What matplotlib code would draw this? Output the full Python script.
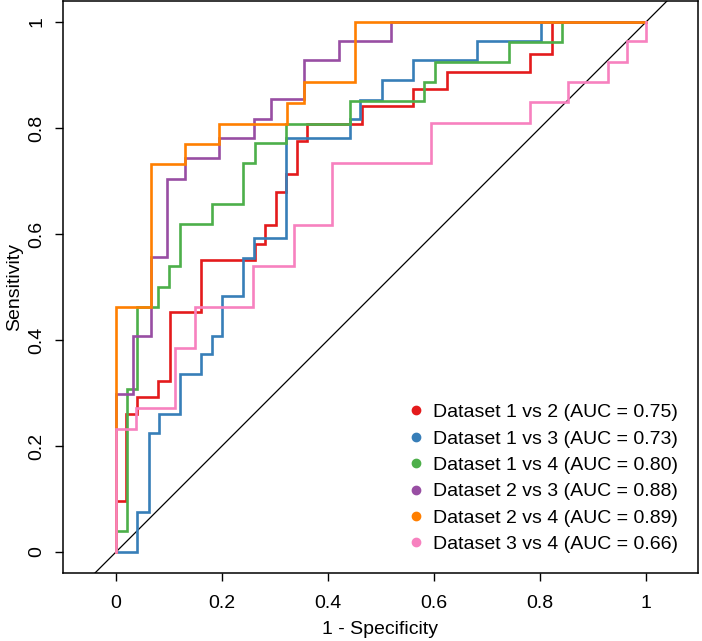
import matplotlib
matplotlib.use('Agg')
from matplotlib import pyplot as plt
from matplotlib.lines import Line2D

plt.rcParams['font.family'] = ['Liberation Sans', 'DejaVu Sans']

# ROC step curves (1 - specificity, sensitivity)
fpr_12 = [0, 0, 0.019, 0.019, 0.039, 0.039, 0.08, 0.08, 0.102, 0.102, 0.16, 0.16, 0.262, 0.262, 0.281, 0.281,
          0.302, 0.302, 0.32, 0.32, 0.341, 0.341, 0.36, 0.36, 0.464, 0.464, 0.561, 0.561, 0.624, 0.624,
          0.782, 0.782, 0.823, 0.823, 1]
tpr_12 = [0, 0.097, 0.097, 0.26, 0.26, 0.292, 0.292, 0.323, 0.323, 0.453, 0.453, 0.55, 0.55, 0.582, 0.582, 0.616,
          0.616, 0.679, 0.679, 0.713, 0.713, 0.776, 0.776, 0.808, 0.808, 0.842, 0.842, 0.873, 0.873, 0.906,
          0.906, 0.939, 0.939, 1, 1]

fpr_13 = [0, 0.04, 0.04, 0.062, 0.062, 0.082, 0.082, 0.121, 0.121, 0.16, 0.16, 0.182, 0.182, 0.2, 0.2, 0.24, 0.24,
          0.261, 0.261, 0.32, 0.32, 0.442, 0.442, 0.46, 0.46, 0.502, 0.502, 0.561, 0.561, 0.682, 0.682,
          0.801, 0.801, 1]
tpr_13 = [0, 0, 0.075, 0.075, 0.224, 0.224, 0.26, 0.26, 0.335, 0.335, 0.373, 0.373, 0.408, 0.408, 0.483, 0.483,
          0.554, 0.554, 0.593, 0.593, 0.782, 0.782, 0.817, 0.817, 0.853, 0.853, 0.891, 0.891, 0.928, 0.928,
          0.964, 0.964, 1, 1]

fpr_14 = [0, 0, 0.02, 0.02, 0.04, 0.04, 0.08, 0.08, 0.1, 0.1, 0.121, 0.121, 0.182, 0.182, 0.24, 0.24, 0.262,
          0.262, 0.32, 0.32, 0.442, 0.442, 0.581, 0.581, 0.602, 0.602, 0.742, 0.742, 0.842, 0.842, 1]
tpr_14 = [0, 0.04, 0.04, 0.308, 0.308, 0.462, 0.462, 0.5, 0.5, 0.54, 0.54, 0.618, 0.618, 0.656, 0.656, 0.733,
          0.733, 0.771, 0.771, 0.808, 0.808, 0.85, 0.85, 0.887, 0.887, 0.925, 0.925, 0.963, 0.963, 1, 1]

fpr_23 = [0, 0, 0.033, 0.033, 0.066, 0.066, 0.097, 0.097, 0.13, 0.13, 0.194, 0.194, 0.26, 0.26, 0.292, 0.292,
          0.355, 0.355, 0.421, 0.421, 0.518, 0.518, 1]
tpr_23 = [0, 0.298, 0.298, 0.408, 0.408, 0.556, 0.556, 0.704, 0.704, 0.743, 0.743, 0.781, 0.781, 0.817, 0.817,
          0.854, 0.854, 0.928, 0.928, 0.965, 0.965, 1, 1]

fpr_24 = [0, 0, 0.066, 0.066, 0.13, 0.13, 0.194, 0.194, 0.322, 0.322, 0.355, 0.355, 0.451, 0.451, 1]
tpr_24 = [0, 0.463, 0.463, 0.732, 0.732, 0.77, 0.77, 0.808, 0.808, 0.848, 0.848, 0.886, 0.886, 1, 1]

fpr_34 = [0, 0, 0.038, 0.038, 0.111, 0.111, 0.149, 0.149, 0.259, 0.259, 0.335, 0.335, 0.408, 0.408, 0.594, 0.594,
          0.781, 0.781, 0.853, 0.853, 0.929, 0.929, 0.965, 0.965, 1, 1]
tpr_34 = [0, 0.232, 0.232, 0.271, 0.271, 0.385, 0.385, 0.463, 0.463, 0.54, 0.54, 0.617, 0.617, 0.733, 0.733, 0.809,
          0.809, 0.849, 0.849, 0.886, 0.886, 0.924, 0.924, 0.964, 0.964, 1]

labels = ['Dataset 1 vs 2 (AUC = 0.75)', 'Dataset 1 vs 3 (AUC = 0.73)', 'Dataset 1 vs 4 (AUC = 0.80)',
          'Dataset 2 vs 3 (AUC = 0.88)', 'Dataset 2 vs 4 (AUC = 0.89)', 'Dataset 3 vs 4 (AUC = 0.66)']
colors = ['#E41A1C', '#377EB8', '#4DAF4A', '#984EA3', '#FF7F00', '#F781BF']
curves = [(fpr_12, tpr_12), (fpr_13, tpr_13), (fpr_14, tpr_14),
          (fpr_23, tpr_23), (fpr_24, tpr_24), (fpr_34, tpr_34)]
ticks = [0, 0.2, 0.4, 0.6, 0.8, 1]
tick_labels = ['0', '0.2', '0.4', '0.6', '0.8', '1']

fig = plt.figure(figsize=(7.02, 6.41), dpi=100)
ax = fig.add_axes([0.0897, 0.1061, 0.9046, 0.8924])

ax.axline((0, 0), (1, 1), color='black', lw=0.9, zorder=1)
for (x, y), c in zip(curves, colors):
    ax.plot(x, y, color=c, lw=1.9, solid_joinstyle='miter', zorder=2)

ax.set_xlim(-0.1, 1.098)
ax.set_ylim(-0.0396, 1.0396)
ax.set_xticks(ticks)
ax.set_xticklabels(tick_labels)
ax.set_yticks(ticks)
ax.set_yticklabels(tick_labels, rotation=90, va='center')
ax.tick_params(length=5.5, width=1, labelsize=14)
ax.tick_params(axis='x', pad=10)
ax.tick_params(axis='y', pad=7)
for s in ax.spines.values():
    s.set_linewidth(1.1)

ax.set_xlabel('1 - Specificity', fontsize=14, labelpad=7)
ax.set_ylabel('Sensitivity', fontsize=14, labelpad=4)

handles = [Line2D([], [], marker='o', ls='none', color=c, markersize=6) for c in colors]
ax.legend(handles, labels, loc='lower right', bbox_to_anchor=(0.99, 0.011), frameon=False,
          fontsize=14, handlelength=0.6, handletextpad=0.6, labelspacing=0.45, borderaxespad=0.3)

fig.savefig('out.png', dpi=100)
